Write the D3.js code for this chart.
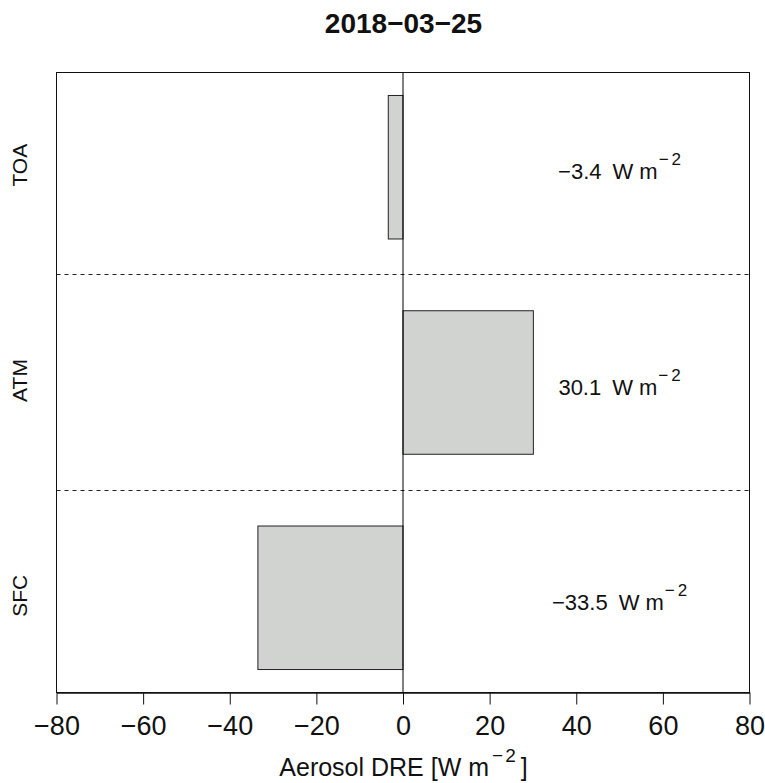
<!DOCTYPE html>
<html>
<head>
<meta charset="utf-8">
<script src="https://cdn.jsdelivr.net/npm/d3@7"></script>
<style>
  body { margin: 0; background: #fff; }
  text { font-family: "Liberation Sans", Arial, Helvetica, sans-serif; fill: #111; }
</style>
</head>
<body>
<div id="chart"></div>
<script>
// data
var title = "2018\u221203\u221225";
var categories = ["TOA", "ATM", "SFC"];
var values = [-3.4, 30.1, -33.5];
var xTicks = [-80, -60, -40, -20, 0, 20, 40, 60, 80];
var xDomain = [-80, 80];

var svgWidth = 765;
var svgHeight = 783;
var margin = { top: 72, right: 16, bottom: 91, left: 56 };
var width = svgWidth - margin.left - margin.right;
var height = svgHeight - margin.top - margin.bottom;

var svg = d3.select("#chart")
  .append("svg")
  .attr("width", svgWidth)
  .attr("height", svgHeight);

var chartGroup = svg.append("g")
  .attr("transform", `translate(${margin.left + 0.5}, ${margin.top + 0.5})`);

function minusFmt(v) {
  return (v < 0 ? "\u2212" : "") + Math.abs(v);
}

// scales
var xScale = d3.scaleLinear().domain(xDomain).range([0, width]);
var yScale = d3.scaleBand()
  .domain(categories)
  .range([0, height])
  .paddingInner(1 / 3)
  .paddingOuter(0.1067);

// bars
chartGroup.selectAll("rect.bar")
  .data(values)
  .enter()
  .append("rect")
  .attr("class", "bar")
  .attr("x", d => xScale(Math.min(0, d)))
  .attr("y", (d, i) => yScale(categories[i]))
  .attr("width", d => Math.abs(xScale(d) - xScale(0)))
  .attr("height", yScale.bandwidth())
  .attr("fill", "#d1d3d1")
  .attr("stroke", "#222")
  .attr("stroke-width", 1);

// dashed separators between the rows
var sepY = categories.slice(1).map(function(c, i) {
  var prevEnd = yScale(categories[i]) + yScale.bandwidth();
  return (prevEnd + yScale(c)) / 2;
});
chartGroup.selectAll("line.sep")
  .data(sepY)
  .enter()
  .append("line")
  .attr("class", "sep")
  .attr("x1", 0)
  .attr("x2", width)
  .attr("y1", d => Math.round(d))
  .attr("y2", d => Math.round(d))
  .attr("stroke", "#222")
  .attr("stroke-dasharray", "4,4");

// zero line
chartGroup.append("line")
  .attr("x1", xScale(0))
  .attr("x2", xScale(0))
  .attr("y1", 0)
  .attr("y2", height)
  .attr("stroke", "#000");

// box
chartGroup.append("rect")
  .attr("x", 0)
  .attr("y", 0)
  .attr("width", width)
  .attr("height", height)
  .attr("fill", "none")
  .attr("stroke", "#111");

// value labels
var labels = chartGroup.selectAll("text.val")
  .data(values)
  .enter()
  .append("text")
  .attr("class", "val")
  .attr("x", xScale(50))
  .attr("y", (d, i) => yScale(categories[i]) + yScale.bandwidth() / 2 + 12)
  .attr("text-anchor", "middle")
  .style("font-size", "22px");
labels.append("tspan").text(d => (d < 0 ? "\u2212" : "") + Math.abs(d).toFixed(1));
labels.append("tspan").attr("dx", 11).text("W");
labels.append("tspan").attr("dx", 6).text("m");
labels.append("tspan").attr("dx", 1).attr("dy", -14).style("font-size", "17px").text("\u2212");
labels.append("tspan").attr("dx", 3).style("font-size", "17px").text("2");

// x axis
var bottomAxis = d3.axisBottom(xScale)
  .tickValues(xTicks)
  .tickSize(12)
  .tickSizeOuter(0)
  .tickPadding(11)
  .tickFormat(minusFmt);

var xAxis = chartGroup.append("g")
  .attr("transform", `translate(0, ${height})`)
  .call(bottomAxis);
xAxis.select(".domain").attr("stroke", "#111").attr("stroke-width", 1.5);
xAxis.selectAll(".tick line").attr("stroke", "#111");
xAxis.selectAll(".tick text")
  .style("font-size", "27px")
  .style("font-family", "'Liberation Sans', Arial, sans-serif")
  .attr("fill", "#111");

// category labels on the left
chartGroup.selectAll("text.cat")
  .data(categories)
  .enter()
  .append("text")
  .attr("class", "cat")
  .attr("transform", d => `translate(${26 - margin.left}, ${yScale(d) + yScale.bandwidth() / 2 - 2}) rotate(-90)`)
  .attr("text-anchor", "middle")
  .style("font-size", "21px")
  .text(d => d);

// x axis title
var xTitle = svg.append("text")
  .attr("x", margin.left + width / 2 + 1)
  .attr("y", 776)
  .attr("text-anchor", "middle")
  .style("font-size", "25px");
xTitle.append("tspan").text("Aerosol DRE [W m");
xTitle.append("tspan").attr("dx", 3).attr("dy", -14).style("font-size", "19px").text("\u2212");
xTitle.append("tspan").attr("dx", 2).style("font-size", "19px").text("2");
xTitle.append("tspan").attr("dx", 5).attr("dy", 14).text("]");

// title
svg.append("text")
  .attr("x", margin.left + width / 2 + 1)
  .attr("y", 33)
  .attr("text-anchor", "middle")
  .style("font-size", "28px")
  .style("font-weight", "bold")
  .text(title);
</script>
</body>
</html>
